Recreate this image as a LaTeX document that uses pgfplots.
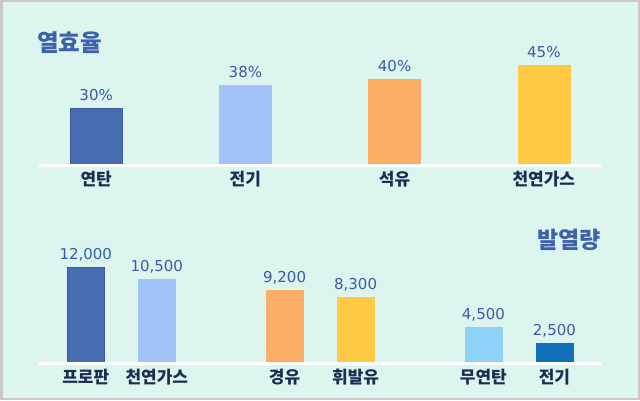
\documentclass[border=0pt]{standalone}
\usepackage{pgfplots}
\pgfplotsset{compat=1.18}
\usepackage{fontspec}
\setmainfont{Noto Sans CJK KR}
\newfontfamily\numfont{DejaVu Sans}

\definecolor{bg}{HTML}{DCF5EE}
\definecolor{frame}{HTML}{C9C9C9}
\definecolor{cA}{HTML}{476CB2}
\definecolor{cB}{HTML}{A2C3F8}
\definecolor{cC}{HTML}{FBAE66}
\definecolor{cD}{HTML}{FFC845}
\definecolor{cE}{HTML}{8FD3F8}
\definecolor{cF}{HTML}{126FB9}
\definecolor{valcol}{HTML}{3C5BA6}
\definecolor{labcol}{HTML}{1A2E52}
\definecolor{titcol}{HTML}{3E61AC}

\pgfplotsset{
  barpanel/.style={
    scale only axis,
    width=562pt,
    ybar, bar shift=0pt,
    axis y line=none,
    axis x line*=bottom,
    x axis line style={white, line width=2.6pt, -},
    axis on top,
    major tick length=0pt,
    xticklabel style={font=\fontsize{17}{17}\selectfont\bfseries, text=labcol, anchor=base, yshift=-20pt},
    point meta=explicit symbolic,
    nodes near coords,
    every node near coord/.append style={font=\numfont\fontsize{15}{15}\selectfont, text=valcol, anchor=base, inner sep=0pt, yshift=7.5pt},
    clip=false,
  },
}

\begin{document}
\begin{tikzpicture}[x=1pt, y=1pt]
  \fill[frame] (0,0) rectangle (640,400);
  \fill[bg] (2.5,2.5) rectangle (637.5,397.5);

  \node[anchor=west, inner sep=0pt, text=titcol, font=\fontsize{23.5}{23.5}\selectfont\bfseries] at (37,357) {열효율};
  \node[anchor=east, inner sep=0pt, text=titcol, font=\fontsize{23}{23}\selectfont\bfseries] at (601,160) {발열량};

  % 열효율 (%)
  \begin{axis}[barpanel,
    at={(39pt,234.3pt)}, anchor=south west,
    height=115.3pt,
    xmin=-0.383, xmax=3.383, ymin=10, ymax=50,
    bar width=52pt,
    xtick={0,1,2,3},
    xticklabels={연탄,전기,석유,천연가스},
  ]
    \addplot[fill=cA, draw=cA!85!black] coordinates {(0,30) [30\%]};
    \addplot[fill=cB, draw=cB] coordinates {(1,38) [38\%]};
    \addplot[fill=cC, draw=cC] coordinates {(2,40) [40\%]};
    \addplot[fill=cD, draw=cD] coordinates {(3,45) [45\%]};
  \end{axis}

  % 발열량
  \begin{axis}[barpanel,
    at={(39pt,36.7pt)}, anchor=south west,
    height=112pt,
    xmin=-0.659, xmax=7.256, ymin=0, ymax=14000,
    bar width=37pt,
    xtick={0,1,2.8,3.8,5.6,6.6},
    xticklabels={프로판,천연가스,경유,휘발유,무연탄,전기},
  ]
    \addplot[fill=cA, draw=cA!85!black] coordinates {(0,12000) [{12,000}]};
    \addplot[fill=cB, draw=cB] coordinates {(1,10500) [{10,500}]};
    \addplot[fill=cC, draw=cC] coordinates {(2.8,9200) [{9,200}]};
    \addplot[fill=cD, draw=cD] coordinates {(3.8,8300) [{8,300}]};
    \addplot[fill=cE, draw=cE] coordinates {(5.6,4500) [{4,500}]};
    \addplot[fill=cF, draw=cF] coordinates {(6.6,2500) [{2,500}]};
  \end{axis}
\end{tikzpicture}
\end{document}
